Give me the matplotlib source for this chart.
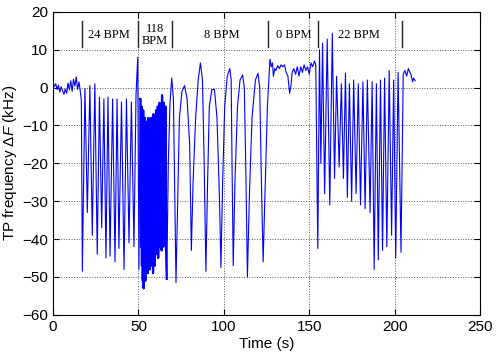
import numpy as np
import matplotlib
matplotlib.use("Agg")
import matplotlib.pyplot as plt

# --- data (time in s, shift in kHz) ---
# quiet start
rest_t = [0, 0.8, 1.6, 2.4, 3.2, 4, 4.8, 5.6, 6.4, 7.2, 8, 8.8, 9.6, 10.4,
          11.2, 12, 12.8, 13.6, 14.4, 15.2, 16, 16.6]
rest_v = [1.2, 0.3, 1.0, -0.5, 0.6, -1.2, 0.2, -0.8, -1.8, -0.4, -1.5, 1.2,
          -0.6, 1.8, -1.0, 2.2, 0.4, 2.8, -0.5, 1.5, -1.0, -3.5]

# 24 BPM : troughs and the crest that follows each one
bpm24_dip_t = [17.2, 20.1, 23.0, 25.9, 28.5, 31.0, 33.4, 36.3, 38.6, 41.6, 44.5, 47.4]
bpm24_dip_v = [-48.5, -33, -39, -44, -37, -45, -44.5, -46, -42.5, -48, -41, -42]
bpm24_top_t = [18.7, 21.6, 24.5, 27.2, 29.8, 32.2, 34.9, 37.5, 40.1, 43.0, 45.9, 48.6]
bpm24_top_v = [-0.3, 0.5, 1.0, -2.5, -3, -2.5, -3, -3, -3.8, -3, -3.8, -2]
spike_t = [49.6, 50.3, 51.0]
spike_v = [8.0, -48.0, -3.0]

# 118 BPM : crest / trough pairs
bpm118_top = [-3, -5, -8, -6, -9, -8, -10, -9, -10, -8, -10, -9, -8, -10, -9,
              -7, -9, -8, -6, -7, -5, -7, -4, -6, -6, -2, -5, -4, -6, -5]
bpm118_bot = [-42, -47, -51, -53, -49, -51, -48, -46, -49, -47, -48, -46, -47,
              -45, -49, -44, -47, -43, -44, -42, -45, -40, -42, -38, -43, -40,
              -42, -38, -36, -41]

# 8 BPM
bpm8_t = [66.6, 67.5, 68.5, 69.5, 70.5, 72.0, 73, 74, 75.5, 77, 78.5, 80, 81,
          82, 83.5, 85, 86.3, 87.5, 88.5, 89.5, 90.5, 91.5, 93, 94.5, 96, 97.5,
          98.3, 99.3, 100.5, 102, 103.5, 104.3, 104.8, 105.5, 106.5, 108, 109.5,
          111, 112, 113, 113.8, 115, 116.5, 118.5, 120, 121, 122, 123, 124,
          125.5, 127]
bpm8_v = [-50.5, -20, -4, 2.5, -3, -51.5, -30, -8, -1, 0.5, -3, -15, -43,
          -25, -8, 2, 6.5, 2, -20, -48.5, -25, -5, -0.5, -0.5, -8, -30,
          -47.5, -25, -5, 3, 5, 2, -20, -47, -25, -5, 2,
          3.3, 0, -25, -50, -28, -8, 2, 3.8, 0, -25, -46, -30,
          -5, 7.5]

# 0 BPM
bpm0_t = [127.8, 128.5, 129, 129.8, 130.5, 131.5, 132.5, 133.5, 134.5, 135.5,
          136.5, 137.5, 138.5, 139.3, 140, 141, 142, 143, 144, 145, 146, 147,
          148, 149, 150, 151, 152, 153, 153.8]
bpm0_v = [5.5, 6.5, 3, 5, 4.5, 5.8, 5, 6, 5.5, 6, 4, 3, -1.5, 0.5, 4, 5, 3.5,
          5.5, 3, 5.5, 4, 6, 4.5, 5.5, 3.5, 6.5, 5.5, 7, 6]

# 22 BPM and tail
bpm22_t = [155, 156, 156.8, 157.8, 159, 160.5, 162, 163.5, 164.8, 166, 167.5,
           168.8, 170, 171.2, 172.3, 173.5, 174.8, 176, 177.4, 178.7, 180,
           181.4, 182.7, 184, 185.6, 186.8, 188, 189.3, 190.4, 191.7, 192.9,
           194.1, 195.4, 196.8, 198.2, 199.4, 200.6, 202, 203.7, 205, 206,
           207, 208, 209.5, 210.5, 211, 212]
bpm22_v = [-42.5, 10, -20, 11.7, -28, 12.8, -31, 14.3, -24, 3, -21, 1, -24,
           3.8, -29, 1, -30, 2, -28, 1, -31, 1.5, -32, 2, -33, 1.5, -48, 1,
           -45.5, 2, -43, 2.5, -42, 4.5, -39, 2, -45, 4, -43.5, 3.5, 4.5, 3,
           5, 3.5, 1.5, 2.5, 1.8]

# annotation bars and labels
bar_t = [17.2, 49.6, 69.5, 126, 155.3, 204.1]
zone_labels = ["24 BPM", "118\nBPM", "8 BPM", "0 BPM", "22 BPM"]
zone_x = [33, 59.7, 99, 140.8, 178.8]

# --- assemble the trace ---
t_all, v_all = list(rest_t), list(rest_v)
for a, b, c, d in zip(bpm24_dip_t, bpm24_dip_v, bpm24_top_t, bpm24_top_v):
    t_all += [a, c]
    v_all += [b, d]
t_all += spike_t
v_all += spike_v
tt = np.linspace(51.3, 66.1, 2 * len(bpm118_top))
fast_t, fast_v = [spike_t[-1]], [spike_v[-1]]
for i in range(len(bpm118_top)):
    fast_t += [tt[2 * i], tt[2 * i + 1]]
    fast_v += [bpm118_top[i], bpm118_bot[i]]
fast_t.append(bpm8_t[0])
fast_v.append(bpm8_v[0])
t_all += fast_t[1:-1]
v_all += fast_v[1:-1]
t_all += bpm8_t + bpm0_t + bpm22_t
v_all += bpm8_v + bpm0_v + bpm22_v

plt.rcParams['font.family'] = 'Liberation Sans'
plt.rcParams['mathtext.fontset'] = 'custom'
plt.rcParams['mathtext.rm'] = 'Liberation Sans'
plt.rcParams['mathtext.it'] = 'Liberation Sans:italic'

fig = plt.figure(figsize=(4.97, 3.57), dpi=100)
ax = fig.add_axes([0.1066, 0.118, 0.8594, 0.849])

ax.plot(t_all, v_all, color='#0000ff', lw=0.8)
# the 118 BPM burst renders as an almost solid block
ax.plot(fast_t, fast_v, color='#0000ff', lw=1.6)

for bt in bar_t:
    ax.plot([bt, bt], [10.8, 17.5], color='#222222', lw=1.0)
for lab, x in zip(zone_labels, zone_x):
    ax.text(x, 13.8, lab, ha='center', va='center', fontsize=9,
            family='Liberation Serif', linespacing=1.0)

ax.set_xlim(0, 250)
ax.set_ylim(-60, 20)
ax.set_xticks(np.arange(0, 251, 50))
ax.set_yticks(np.arange(-60, 21, 10))
ax.grid(True, linestyle=':', color='#555555', lw=0.7)
ax.tick_params(direction='in', top=True, right=True, labelsize=11, length=4)
for s in ax.spines.values():
    s.set_linewidth(0.8)
ax.set_xlabel('Time (s)', fontsize=11, labelpad=2)
ax.set_ylabel(r'TP frequency $\Delta F$ (kHz)', fontsize=11, labelpad=2)

fig.savefig('out.png', dpi=100)
